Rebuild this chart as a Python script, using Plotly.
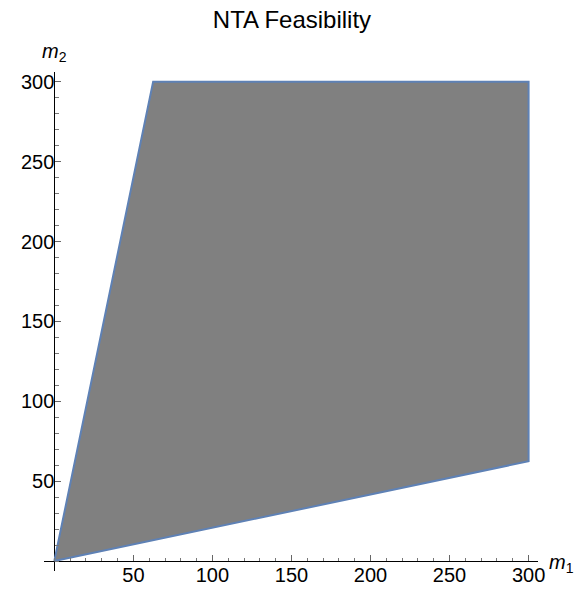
import plotly.graph_objects as go

# Region boundary (vertices of the feasible polygon)
m1_vertices = [0, 62.5, 300, 300, 0]
m2_vertices = [0, 300, 300, 62.5, 0]

# Tick labels
x_ticks = [50, 100, 150, 200, 250, 300]
y_ticks = [50, 100, 150, 200, 250, 300]

W, H = 584, 592
# plot area pixels
L, R, T, B = 45, 545, 71, 571
x_range = [-6.25, 306.25]
y_range = [-6.25, 306.25]
x0_px, y0_px = 55, 561  # origin position

fig = go.Figure()
fig.add_trace(go.Scatter(
    x=m1_vertices, y=m2_vertices,
    mode="lines", fill="toself",
    fillcolor="#808080",
    line=dict(color="#5E81B5", width=2),
    hoverinfo="skip", showlegend=False,
))

FONT = "Liberation Sans, Arial, sans-serif"
tickfont = dict(family=FONT, size=20, color="black")

fig.update_layout(
    width=W, height=H,
    margin=dict(l=0, r=0, t=0, b=0),
    paper_bgcolor="white", plot_bgcolor="white",
    title=dict(text="NTA Feasibility", x=0.5, xanchor="center",
               y=1 - 20 / H, yanchor="middle", yref="container",
               font=dict(family=FONT, size=24, color="black")),
    xaxis=dict(
        domain=[L / W, R / W], range=x_range, anchor="free",
        position=(H - y0_px) / H,
        showgrid=False, showline=False,
        zeroline=True, zerolinecolor="black", zerolinewidth=1,
        tickvals=x_ticks, ticktext=[str(v) for v in x_ticks],
        ticks="inside", ticklen=6, tickcolor="#666", tickwidth=1,
        minor=dict(dtick=10, tick0=0, ticks="inside", ticklen=3.5, tickcolor="#777", showgrid=False),
        tickfont=tickfont, fixedrange=True,
    ),
    yaxis=dict(
        domain=[(H - B) / H, (H - T) / H], range=y_range, anchor="free",
        position=x0_px / W,
        showgrid=False, showline=False,
        zeroline=True, zerolinecolor="black", zerolinewidth=1,
        tickvals=y_ticks, ticktext=[str(v) for v in y_ticks],
        ticks="inside", ticklen=6, tickcolor="#666", tickwidth=1,
        minor=dict(dtick=10, tick0=0, ticks="inside", ticklen=3.5, tickcolor="#777", showgrid=False),
        tickfont=tickfont, fixedrange=True,
    ),
    annotations=[
        dict(text="<i>m</i><sub>1</sub>", xref="paper", yref="paper",
             x=554 / W, y=(H - 563) / H, xanchor="left", yanchor="middle",
             showarrow=False, font=dict(family=FONT, size=20, color="black")),
        dict(text="<i>m</i><sub>2</sub>", xref="paper", yref="paper",
             x=55 / W, y=(H - 52) / H, xanchor="center", yanchor="middle",
             showarrow=False, font=dict(family=FONT, size=20, color="black")),
    ],
)

fig.write_html("out.html")
